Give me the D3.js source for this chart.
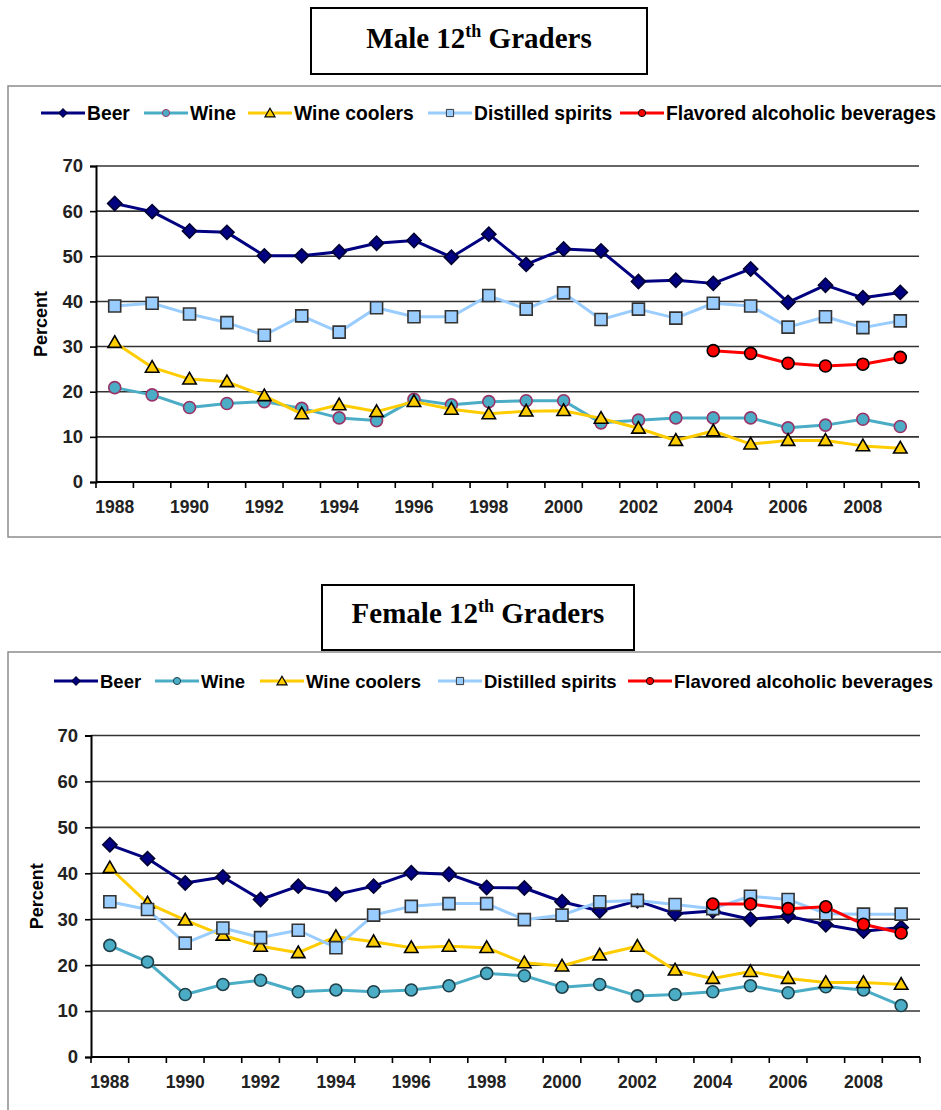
<!DOCTYPE html>
<html><head><meta charset="utf-8">
<script src="https://cdn.jsdelivr.net/npm/d3@7"></script>
<style>body{margin:0;background:#fff}svg{display:block}</style>
</head><body><svg id="c" width="941" height="1110"></svg>
<script>
// ---------- data ----------
const years = [1988,1989,1990,1991,1992,1993,1994,1995,1996,1997,1998,1999,2000,2001,2002,2003,2004,2005,2006,2007,2008,2009];
const yearLabels = ["1988","1990","1992","1994","1996","1998","2000","2002","2004","2006","2008"];
const yTicks = [0,10,20,30,40,50,60,70];
const seriesNames = ["Beer","Wine","Wine coolers","Distilled spirits","Flavored alcoholic beverages"];

const maleBeer     = [61.7,59.9,55.6,55.3,50.1,50.1,51.0,52.9,53.5,49.8,54.9,48.2,51.6,51.2,44.4,44.7,44.0,47.2,39.8,43.6,40.8,42.0];
const maleWine     = [20.9,19.3,16.5,17.4,17.8,16.3,14.2,13.6,18.3,17.1,17.8,18.0,18.0,13.1,13.7,14.2,14.2,14.2,12.0,12.6,13.9,12.3];
const maleCoolers  = [30.9,25.4,22.8,22.2,19.1,15.1,17.1,15.6,17.8,16.1,15.1,15.7,15.8,14.1,11.9,9.2,11.3,8.4,9.2,9.2,8.0,7.5];
const maleSpirits  = [39.0,39.6,37.2,35.3,32.5,36.8,33.2,38.6,36.6,36.6,41.3,38.3,41.9,36.0,38.3,36.3,39.6,39.0,34.3,36.6,34.2,35.7];
const maleFlavored = [null,null,null,null,null,null,null,null,null,null,null,null,null,null,null,null,29.1,28.5,26.3,25.7,26.1,27.6];

const femaleBeer     = [46.2,43.2,37.9,39.2,34.3,37.2,35.4,37.2,40.1,39.8,36.9,36.8,33.8,31.8,34.0,31.2,31.8,30.0,30.7,28.8,27.4,28.2];
const femaleWine     = [24.3,20.7,13.6,15.8,16.7,14.2,14.6,14.2,14.6,15.5,18.2,17.7,15.2,15.8,13.3,13.6,14.2,15.5,14.0,15.3,14.6,11.2];
const femaleCoolers  = [41.2,33.5,29.8,26.5,24.1,22.7,26.2,25.1,23.8,24.1,23.8,20.5,19.8,22.2,24.1,18.9,17.1,18.6,17.1,16.2,16.2,15.8];
const femaleSpirits  = [33.8,32.1,24.8,28.1,26.0,27.6,23.8,30.9,32.8,33.4,33.4,29.9,30.9,33.8,34.1,33.2,32.3,35.0,34.3,31.2,31.1,31.1];
const femaleFlavored = [null,null,null,null,null,null,null,null,null,null,null,null,null,null,null,null,33.3,33.3,32.3,32.7,28.9,27.0];

// ---------- styles ----------
const seriesStyle = {
  "Beer": {line:"#000080", fill:"#000080", stroke:"#000033", shape:"diamond"},
  "Wine": {line:"#4bacc6", fill:"#4bacc6", stroke:"#993366", shape:"circle"},
  "Wine coolers": {line:"#ffcc00", fill:"#ffcc00", stroke:"#000000", shape:"triangle"},
  "Distilled spirits": {line:"#99ccff", fill:"#99ccff", stroke:"#333333", shape:"square"},
  "Flavored alcoholic beverages": {line:"#ff0000", fill:"#ff0000", stroke:"#000000", shape:"circle"}
};

const svg = d3.select("#c");

function markerPath(shape){
  if(shape==="diamond") return d3.symbol(d3.symbolSquare, 100)();
  if(shape==="circle") return d3.symbol(d3.symbolCircle, 113)();
  if(shape==="triangle") return d3.symbol(d3.symbolTriangle, 78)();
  return d3.symbol(d3.symbolSquare, 144)();
}
function markerTransform(shape, x, y){
  if(shape==="diamond") return `translate(${x},${y}) rotate(45)`;
  if(shape==="triangle") return `translate(${x},${y+1})`;
  return `translate(${x},${y})`;
}

function drawChart(cfg){
  const g = svg.append("g");
  // frame
  g.append("rect").attr("x",cfg.frame[0]).attr("y",cfg.frame[1]).attr("width",cfg.frame[2]).attr("height",cfg.frame[3])
    .attr("fill","#fff").attr("stroke","#8c8c8c").attr("stroke-width",1.5);
  // title box
  g.append("rect").attr("x",cfg.titleBox[0]).attr("y",cfg.titleBox[1]).attr("width",cfg.titleBox[2]).attr("height",cfg.titleBox[3])
    .attr("fill","#fff").attr("stroke","#000").attr("stroke-width",2);
  const tt = g.append("text").attr("x",cfg.titleBox[0]+cfg.titleBox[2]/2).attr("y",cfg.titleY)
    .attr("text-anchor","middle").attr("font-family","'Liberation Serif','Times New Roman',serif")
    .attr("font-weight","bold").attr("font-size",29).attr("fill","#000");
  tt.append("tspan").text(cfg.titleA);
  tt.append("tspan").attr("font-size",18).attr("dy",-11).text("th");
  tt.append("tspan").attr("dy",11).text(" Graders");

  // legend
  const leg = g.append("g");
  seriesNames.forEach((name,i)=>{
    const st = seriesStyle[name];
    const lx = cfg.legendX[i], ly = cfg.legendY;
    const mstroke = (name==="Wine") ? cfg.wineStroke : st.stroke;
    leg.append("line").attr("x1",lx).attr("x2",lx+44).attr("y1",ly).attr("y2",ly)
      .attr("stroke",st.line).attr("stroke-width",3);
    const sc = {diamond:0.6,circle:0.6,triangle:0.75,square:0.6}[st.shape];
    leg.append("path").attr("d",markerPath(st.shape))
      .attr("transform", markerTransform(st.shape,lx+22,ly) + ` scale(${sc})`)
      .attr("fill",st.fill).attr("stroke",mstroke).attr("stroke-width",1.6);
    leg.append("text").attr("x",lx+46).attr("y",ly).attr("dy","0.36em")
      .attr("font-family","'Liberation Sans',Arial,sans-serif").attr("font-weight","bold")
      .attr("font-size",cfg.legendFont).attr("fill","#000").text(name);
  });

  const x = d3.scaleBand().domain(years).range([cfg.x0,cfg.x1]).padding(0);
  const y = d3.scaleLinear().domain([0,70]).range([cfg.yBottom,cfg.yTop]);
  const cx = d => x(d) + x.bandwidth()/2;

  // gridlines
  g.append("g").selectAll("line").data(yTicks.filter(v=>v>0)).join("line")
    .attr("x1",cfg.x0).attr("x2",cfg.x1).attr("y1",d=>y(d)).attr("y2",d=>y(d))
    .attr("stroke","#333").attr("stroke-width",1.6);

  // y axis
  const ya = g.append("g").attr("transform",`translate(${cfg.x0},0)`)
    .call(d3.axisLeft(y).tickValues(yTicks).tickSize(6).tickPadding(7).tickFormat(d3.format("d")));
  ya.select(".domain").attr("stroke","#000").attr("stroke-width",2);
  ya.selectAll(".tick line").attr("stroke","#000").attr("stroke-width",1.6);
  ya.selectAll(".tick text").attr("font-family","'Liberation Sans',Arial,sans-serif").attr("font-weight","bold")
    .attr("font-size",18.5).attr("fill","#222");

  // x axis
  g.append("line").attr("x1",cfg.x0).attr("x2",cfg.x1).attr("y1",cfg.yBottom).attr("y2",cfg.yBottom)
    .attr("stroke","#000").attr("stroke-width",2);
  const bounds = years.map(d=>x(d)).concat([cfg.x1]);
  g.append("g").selectAll("line").data(bounds).join("line")
    .attr("x1",d=>d).attr("x2",d=>d).attr("y1",cfg.yBottom).attr("y2",cfg.yBottom+6)
    .attr("stroke","#000").attr("stroke-width",1.6);
  g.append("g").selectAll("text").data(yearLabels).join("text")
    .attr("x",d=>cx(+d)).attr("y",cfg.yBottom+31).attr("text-anchor","middle")
    .attr("font-family","'Liberation Sans',Arial,sans-serif").attr("font-weight","bold")
    .attr("font-size",17.5).attr("fill","#222").text(d=>d);

  // y title
  g.append("text").attr("transform",`translate(${cfg.yTitleX},${(cfg.yTop+cfg.yBottom)/2}) rotate(-90)`)
    .attr("text-anchor","middle").attr("font-family","'Liberation Sans',Arial,sans-serif")
    .attr("font-weight","bold").attr("font-size",18).attr("fill","#000").text("Percent");

  // series
  cfg.series.forEach((vals,i)=>{
    const name = seriesNames[i], st = seriesStyle[name];
    const mstroke = (name==="Wine") ? cfg.wineStroke : st.stroke;
    const pts = years.map((yr,j)=>({yr, v: vals[j]}));
    const line = d3.line().defined(d=>d.v!=null).x(d=>cx(d.yr)).y(d=>y(d.v));
    g.append("path").datum(pts).attr("d",line).attr("fill","none")
      .attr("stroke",st.line).attr("stroke-width",3).attr("stroke-linejoin","round");
    g.append("g").selectAll("path").data(pts.filter(d=>d.v!=null)).join("path")
      .attr("d",markerPath(st.shape))
      .attr("transform",d=>markerTransform(st.shape,cx(d.yr),y(d.v)))
      .attr("fill",st.fill).attr("stroke",mstroke).attr("stroke-width",1.6);
  });
}

drawChart({
  frame:[8,86,960,451], titleBox:[311,8,336,66], titleY:48, titleA:"Male 12",
  legendX:[41,144,248,428,620], legendY:113, legendFont:19.3, wineStroke:"#993366",
  x0:96, x1:919, yTop:166, yBottom:482, yTitleX:47,
  series:[maleBeer,maleWine,maleCoolers,maleSpirits,maleFlavored]
});
drawChart({
  frame:[8,652,960,500], titleBox:[322,585,312,65], titleY:623, titleA:"Female 12",
  legendX:[54,155,260,438,628], legendY:681, legendFont:18.5, wineStroke:"#1d3f48",
  x0:91, x1:920, yTop:735.5, yBottom:1057, yTitleX:43,
  series:[femaleBeer,femaleWine,femaleCoolers,femaleSpirits,femaleFlavored]
});
</script></body></html>
